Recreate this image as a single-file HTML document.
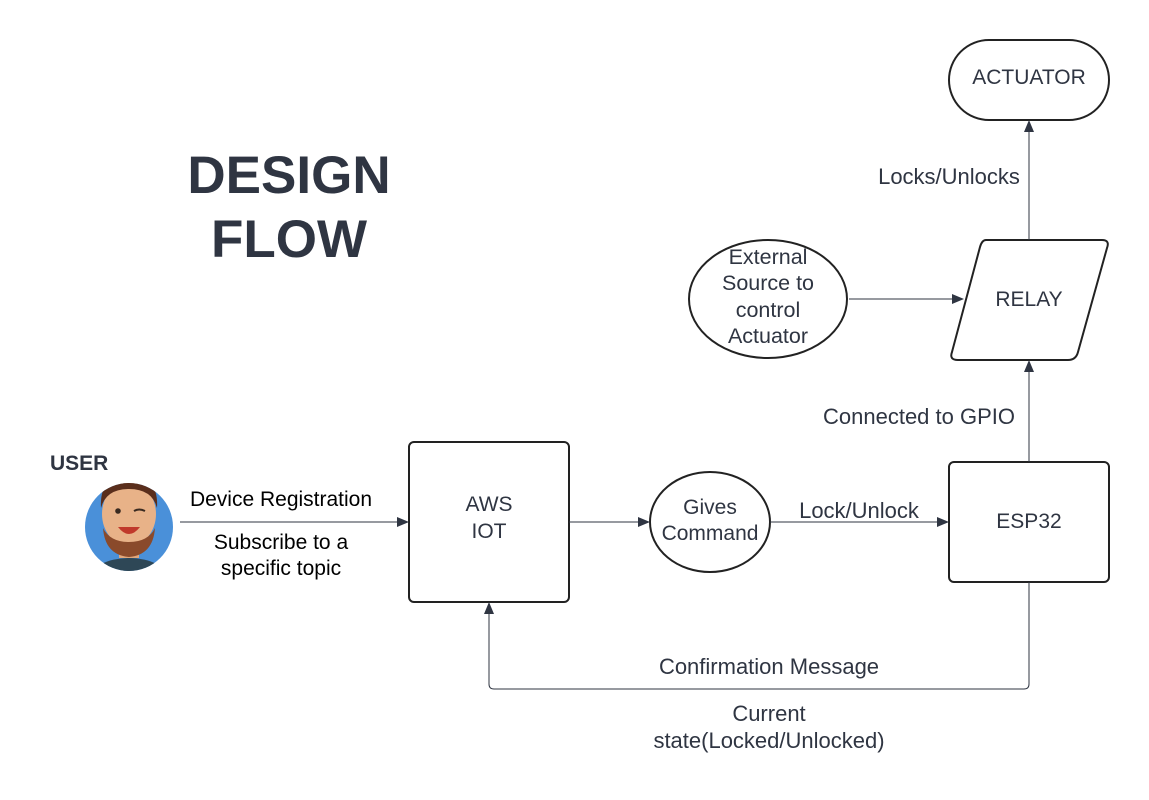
<!DOCTYPE html>
<html><head><meta charset="utf-8"><style>
html,body{margin:0;padding:0;background:#fff;}
svg{display:block;}
text{font-family:"Liberation Sans",sans-serif;fill:#2f3542;}
</style></head><body>
<svg width="1149" height="800" viewBox="0 0 1149 800" xmlns="http://www.w3.org/2000/svg">
<defs>
<marker id="a" markerWidth="12" markerHeight="10" refX="11" refY="5" orient="auto" markerUnits="userSpaceOnUse">
<path d="M0,0 L12,5 L0,10 Z" fill="#2f3542"/></marker>
</defs>
<rect width="1149" height="800" fill="#fff"/>
<text x="289" y="193" font-size="53" font-weight="bold" text-anchor="middle">DESIGN</text>
<text x="289" y="257" font-size="53" font-weight="bold" text-anchor="middle">FLOW</text>

<rect x="949" y="40" width="160" height="80" rx="40" fill="#fff" stroke="#222" stroke-width="2"/>
<text x="1029" y="84" font-size="21" text-anchor="middle">ACTUATOR</text>
<path d="M986,240 L1102,240 Q1110,240 1107,248 L1078,352 Q1076,360 1068,360 L958,360 Q949,360 952,352 L980,247 Q982,240 986,240 Z" fill="#fff" stroke="#222" stroke-width="2"/>
<text x="1029" y="306" font-size="21" text-anchor="middle">RELAY</text>
<ellipse cx="768" cy="299" rx="79" ry="59" fill="#fff" stroke="#222" stroke-width="2"/>
<text font-size="21.5" text-anchor="middle"><tspan x="768" y="264">External</tspan><tspan x="768" y="290">Source to</tspan><tspan x="768" y="317">control</tspan><tspan x="768" y="343">Actuator</tspan></text>
<rect x="949" y="462" width="160" height="120" rx="5" fill="#fff" stroke="#222" stroke-width="2"/>
<text x="1029" y="528" font-size="21" text-anchor="middle">ESP32</text>
<rect x="409" y="442" width="160" height="160" rx="5" fill="#fff" stroke="#222" stroke-width="2"/>
<text font-size="21" text-anchor="middle"><tspan x="489" y="511">AWS</tspan><tspan x="489" y="538">IOT</tspan></text>
<ellipse cx="710" cy="522" rx="60" ry="50" fill="#fff" stroke="#222" stroke-width="2"/>
<text font-size="21" text-anchor="middle"><tspan x="710" y="514">Gives</tspan><tspan x="710" y="540">Command</tspan></text>

<g stroke="#2f3542" stroke-width="1" fill="none">
<line x1="1029" y1="240" x2="1029" y2="121" marker-end="url(#a)"/>
<line x1="849" y1="299" x2="963" y2="299" marker-end="url(#a)"/>
<line x1="1029" y1="462" x2="1029" y2="361" marker-end="url(#a)"/>
<line x1="180" y1="522" x2="408" y2="522" marker-end="url(#a)"/>
<line x1="569" y1="522" x2="649" y2="522" marker-end="url(#a)"/>
<line x1="770" y1="522" x2="948" y2="522" marker-end="url(#a)"/>
<path d="M1029,582 L1029,684 Q1029,689 1024,689 L494,689 Q489,689 489,684 L489,603" marker-end="url(#a)"/>
</g>

<text x="949" y="184" font-size="22" text-anchor="middle">Locks/Unlocks</text>
<text x="919" y="424" font-size="22" text-anchor="middle">Connected to GPIO</text>
<text x="859" y="518" font-size="22" text-anchor="middle">Lock/Unlock</text>
<text x="769" y="674" font-size="22" text-anchor="middle">Confirmation Message</text>
<text font-size="22" text-anchor="middle"><tspan x="769" y="721">Current</tspan><tspan x="769" y="748">state(Locked/Unlocked)</tspan></text>
<text font-size="21" text-anchor="middle" style="fill:#000"><tspan x="281" y="506">Device Registration</tspan><tspan x="281" y="549">Subscribe to a</tspan><tspan x="281" y="575">specific topic</tspan></text>
<text x="50" y="470" font-size="21" font-weight="bold">USER</text>

<clipPath id="c"><circle cx="129" cy="527" r="44"/></clipPath>
<circle cx="129" cy="527" r="44" fill="#4a90d9"/>
<g clip-path="url(#c)">
<ellipse cx="129" cy="580" rx="40" ry="22" fill="#2e4756"/>
<rect x="119" y="540" width="20" height="18" fill="#e0a77c"/>
<ellipse cx="129" cy="514" rx="27" ry="32" fill="#e8b288"/>
<path d="M103,528 Q105,555 129,557 Q153,555 155,528 Q148,542 129,542 Q110,542 103,528 Z" fill="#8a4a2b"/>
<path d="M101,508 Q99,476 129,475 Q159,476 157,508 Q152,489 129,489 Q106,489 101,508 Z" fill="#5a2e1c"/>
<circle cx="118" cy="511" r="2.8" fill="#3a2a20"/>
<path d="M134,511 Q139,508 145,511" stroke="#3a2a20" stroke-width="2" fill="none"/>
<path d="M118,527 Q129,541 140,527 Z" fill="#c0392b"/>
</g>
</svg>
</body></html>
